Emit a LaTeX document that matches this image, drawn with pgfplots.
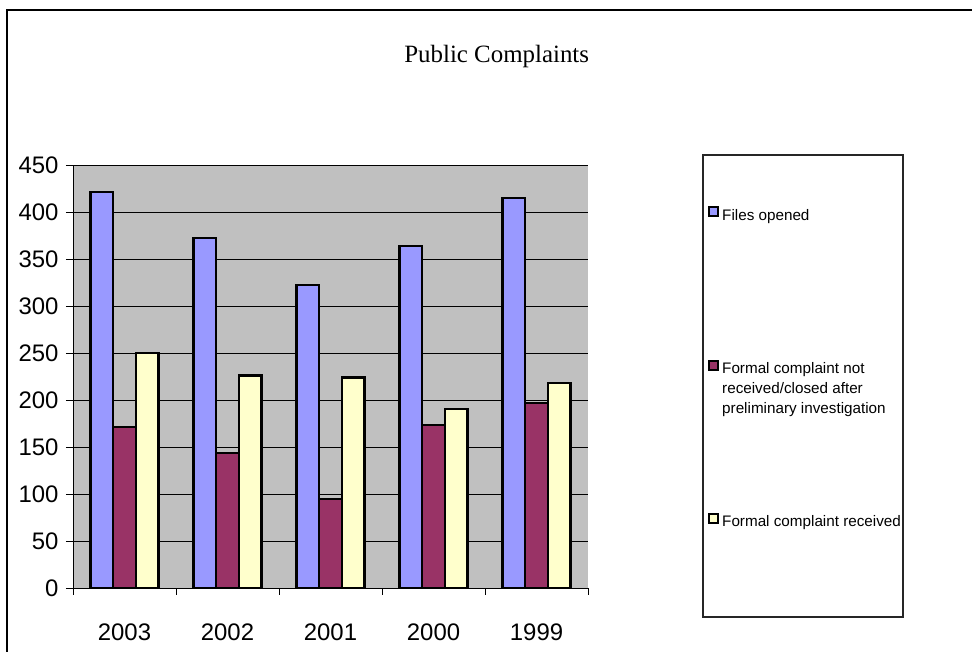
\documentclass[border=0pt]{standalone}
\usepackage{fontspec}
\setmainfont{Liberation Sans}
\newfontfamily\timesf{Liberation Serif}
\usepackage{pgfplots}
\pgfplotsset{compat=1.18}
\definecolor{fo}{RGB}{153,153,255}
\definecolor{fn}{RGB}{153,51,102}
\definecolor{fr}{RGB}{255,255,204}
\definecolor{bgc}{RGB}{192,192,192}
\begin{document}
\begin{tikzpicture}[x=1bp,y=1bp]
\useasboundingbox (0,0) rectangle (972,652);
\fill[white] (0,0) rectangle (972,652);
\draw[line width=1.2bp] (7,-20) -- (7,642) -- (990,642);
\node[font=\timesf\fontsize{25}{30}\selectfont] at (496.7,595) {Public Complaints};
\begin{axis}[
  at={(73bp,64bp)}, anchor=south west,
  scale only axis, width=515bp, height=423bp,
  xmin=-0.5, xmax=4.5, ymin=0, ymax=450,
  axis background/.style={fill=bgc},
  ybar=0pt, bar width=22.7bp,
  ytick={0,50,...,450},
  ymajorgrids, grid style={black, line width=0.9bp},
  axis x line*=bottom, axis y line*=left,
  axis line style={-, black, line width=0.9bp},
  tick align=outside, major tick length=7bp,
  tick style={black, line width=0.9bp},
  xtick={-0.5,0.5,...,4.5}, xticklabels={},
  extra x ticks={0,1,2,3,4},
  extra x tick labels={2003,2002,2001,2000,1999},
  extra x tick style={major tick length=0pt, grid=none, xticklabel style={yshift=-32bp}},
  ticklabel style={font=\fontsize{24}{28}\selectfont},
  yticklabel style={xshift=-4bp},
  /pgf/number format/assume math mode=true,
  clip=false,
]
\addplot[fill=fo, draw=black, line width=2.2bp] coordinates {(0,421) (1,372) (2,322) (3,364) (4,415)};
\addplot[fill=fn, draw=black, line width=2.2bp] coordinates {(0,171) (1,144) (2,95) (3,173) (4,197)};
\addplot[fill=fr, draw=black, line width=2.2bp] coordinates {(0,250) (1,226) (2,224) (3,190) (4,218)};
\end{axis}
% legend
\draw[line width=1.2bp, black!85] (703,497) rectangle (903,35);
\begin{scope}[every node/.style={anchor=base west, inner sep=0pt, font=\fontsize{15.3}{20}\selectfont}]
\draw[fill=fo, line width=2bp] (708.5,435.5) rectangle (717.5,444.5);
\node at (722,431.3) {Files opened};
\draw[fill=fn, line width=2bp] (708.5,282) rectangle (717.5,291);
\node at (722,278) {Formal complaint not};
\node at (722,258) {received/closed after};
\node at (722,238) {preliminary investigation};
\draw[fill=fr, line width=2bp] (708.5,128.5) rectangle (717.5,137.5);
\node at (722,125.3) {Formal complaint received};
\end{scope}
\end{tikzpicture}
\end{document}
